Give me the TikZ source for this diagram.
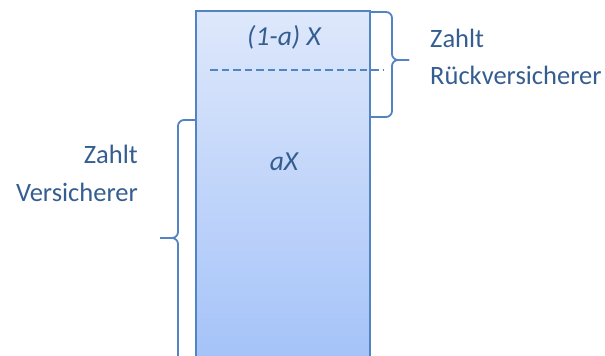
\documentclass[tikz,border=0pt]{standalone}
\usepackage{fontspec}
\setmainfont{Carlito}
\begin{document}
\begin{tikzpicture}[x=1pt,y=-1pt,
  bordc/.style={draw=bord,line width=1.8pt},
  lbl/.style={text=txt,font=\fontsize{26.5}{30}\selectfont,inner sep=0pt},
  ital/.style={text=txt,font=\fontsize{27.5}{30}\selectfont\itshape,inner sep=0pt}]
\definecolor{bord}{HTML}{5283C2}
\definecolor{txt}{HTML}{355E90}
\definecolor{topc}{HTML}{DEE8FB}
\definecolor{botc}{HTML}{A5C3F9}
\useasboundingbox (0,0) rectangle (605,356);
\begin{scope}
  \clip (0,0) rectangle (605,356);
  \shade[top color=topc,bottom color=botc] (196,11) rectangle (370,358);
  \draw[bordc] (196,370) -- (196,11) -- (370,11) -- (370,370);
  % left brace
  \draw[bordc,rounded corners=6pt] (196,120) -| (178,238) -- (160,238);
  \draw[bordc,rounded corners=6pt] (160,238) -| (178,370);
\end{scope}
% dashed line
\coordinate (d1) at (210,70);
\coordinate (d2) at (384,70);
\draw[draw=bord,line width=1.5pt,dash pattern=on 7.5pt off 4pt] (d1) -- (d2);
% right brace
\draw[bordc,rounded corners=6pt] (370,12) -| (392,60) -- (409,60);
\draw[bordc,rounded corners=6pt] (409,60) -- (392,60) |- (370,117);
% texts
\node[ital,anchor=base] (t1) at (284,45) {(1-a) X};
\node[ital,anchor=base] (t2) at (284,170) {aX};
\node[lbl,anchor=base west] (r1) at (430,47) {Zahlt};
\node[lbl,anchor=base west] (r2) at (430,84) {Rückversicherer};
\node[lbl,anchor=base east] (l1) at (138,163) {Zahlt};
\node[lbl,anchor=base east] (l2) at (138,201) {Versicherer};
\end{tikzpicture}
\end{document}
